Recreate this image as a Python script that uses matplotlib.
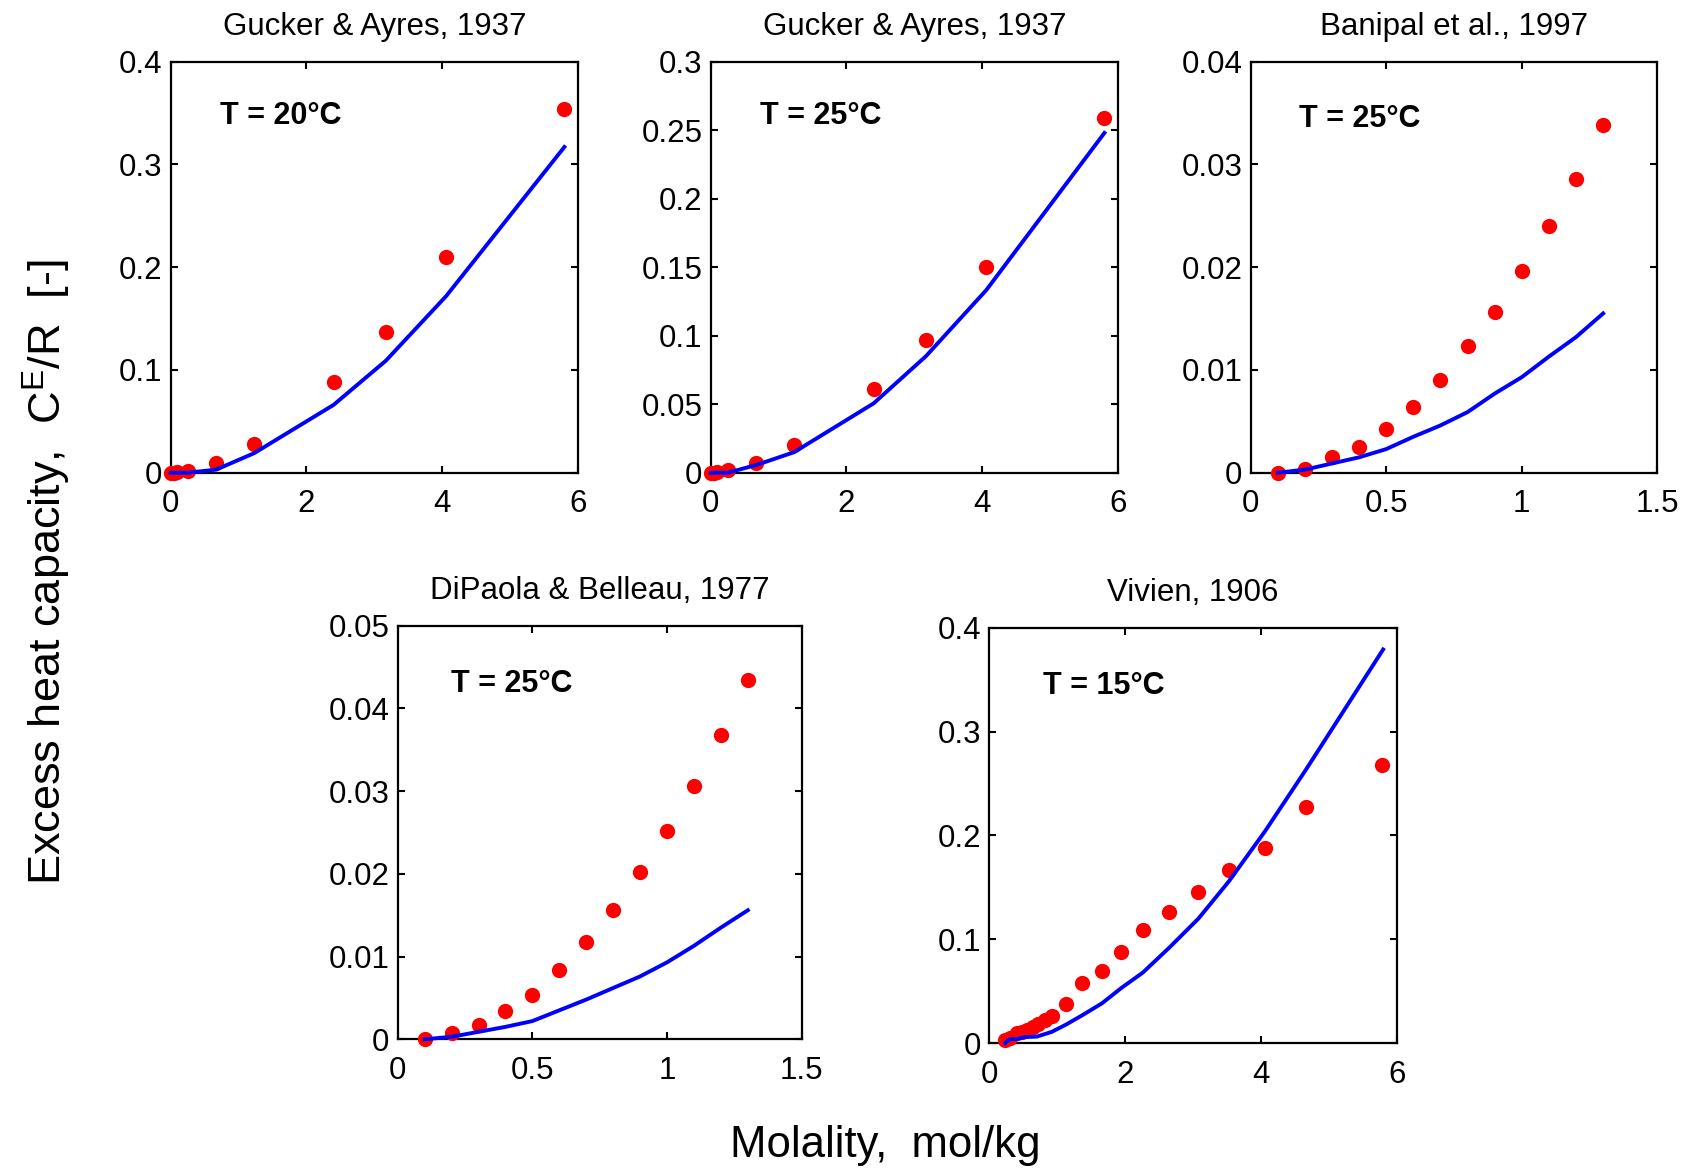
import matplotlib
matplotlib.use("Agg")
import matplotlib.pyplot as plt
import matplotlib.ticker as ticker

plt.rcParams["font.family"] = ["Liberation Sans", "DejaVu Sans"]
plt.rcParams["mathtext.default"] = "regular"

# Gucker & Ayres, 1937, T = 20 C
g20_x = [0.0, 0.05, 0.1, 0.25, 0.67, 1.23, 2.4, 3.17, 4.06, 5.8]
g20_y = [0.0, 0.0, 0.0005, 0.002, 0.009, 0.028, 0.088, 0.137, 0.210, 0.354]
g20_fit_x = [0.0, 0.25, 0.67, 1.23, 2.4, 3.17, 4.06, 5.8]
g20_fit_y = [0.0, 0.0, 0.003, 0.019, 0.066, 0.109, 0.172, 0.317]

# Gucker & Ayres, 1937, T = 25 C
g25_x = [0.0, 0.05, 0.1, 0.25, 0.67, 1.23, 2.4, 3.17, 4.06, 5.8]
g25_y = [0.0, 0.0, 0.0003, 0.002, 0.007, 0.020, 0.061, 0.097, 0.150, 0.259]
g25_fit_x = [0.0, 0.25, 0.67, 1.23, 2.4, 3.17, 4.06, 5.8]
g25_fit_y = [0.0, 0.0, 0.0056, 0.015, 0.0506, 0.085, 0.1333, 0.248]

# Banipal et al., 1997, T = 25 C
ban_x = [0.1, 0.2, 0.3, 0.4, 0.5, 0.6, 0.7, 0.8, 0.9, 1.0, 1.1, 1.2, 1.3]
ban_y = [0.0, 0.0004, 0.0015, 0.0025, 0.0043, 0.0064, 0.0090, 0.0123,
         0.0156, 0.0196, 0.0240, 0.0286, 0.0338]
ban_fit_y = [0.0, 0.0003, 0.0009, 0.0015, 0.0023, 0.0035, 0.0046, 0.0059,
             0.0077, 0.0093, 0.0113, 0.0132, 0.0155]

# DiPaola & Belleau, 1977, T = 25 C
dip_x = [0.1, 0.2, 0.3, 0.4, 0.5, 0.6, 0.7, 0.8, 0.9, 1.0, 1.1, 1.2, 1.3]
dip_y = [0.0, 0.0007, 0.0017, 0.0034, 0.0054, 0.0084, 0.0118, 0.0156,
         0.0202, 0.0252, 0.0306, 0.0368, 0.0434]
dip_fit_y = [0.0, 0.0003, 0.0009, 0.0015, 0.0022, 0.0035, 0.0048, 0.0062,
             0.0076, 0.0093, 0.0113, 0.0135, 0.0156]

# Vivien, 1906, T = 15 C
viv_x = [0.23, 0.3, 0.4, 0.48, 0.55, 0.65, 0.72, 0.82, 0.92, 1.13, 1.37,
         1.66, 1.94, 2.26, 2.65, 3.08, 3.53, 4.06, 4.66, 5.79]
viv_y = [0.003, 0.005, 0.0096, 0.011, 0.013, 0.016, 0.019, 0.022, 0.026,
         0.0375, 0.058, 0.070, 0.088, 0.109, 0.126, 0.146, 0.167, 0.188,
         0.227, 0.268]
viv_fit_x = [0.23, 0.3, 0.4, 0.53, 0.7, 0.92, 1.13, 1.37, 1.66, 1.94, 2.26,
             2.65, 3.08, 3.53, 4.06, 4.66, 5.8]
viv_fit_y = [0.0, 0.004, 0.004, 0.006, 0.0064, 0.011, 0.018, 0.027, 0.0385,
             0.053, 0.068, 0.092, 0.120, 0.156, 0.204, 0.263, 0.379]

panels = [
    # rect, title, label, points, fit, xlim, xticks, ylim, yticks, label pos
    ([0.1012, 0.5970, 0.2416, 0.3504], "Gucker & Ayres, 1937", "T = 20°C",
     (g20_x, g20_y), (g20_fit_x, g20_fit_y), (0, 6), [0, 2, 4, 6],
     (0, 0.4), [0, 0.1, 0.2, 0.3, 0.4], (0.12, 0.868)),
    ([0.4215, 0.5970, 0.2416, 0.3504], "Gucker & Ayres, 1937", "T = 25°C",
     (g25_x, g25_y), (g25_fit_x, g25_fit_y), (0, 6), [0, 2, 4, 6],
     (0, 0.3), [0, 0.05, 0.1, 0.15, 0.2, 0.25, 0.3], (0.12, 0.868)),
    ([0.7418, 0.5970, 0.2412, 0.3504], "Banipal et al., 1997", "T = 25°C",
     (ban_x, ban_y), (ban_x, ban_fit_y), (0, 1.5), [0, 0.5, 1, 1.5],
     (0, 0.04), [0, 0.01, 0.02, 0.03, 0.04], (0.12, 0.86)),
    ([0.2359, 0.1140, 0.2396, 0.3526], "DiPaola & Belleau, 1977", "T = 25°C",
     (dip_x, dip_y), (dip_x, dip_fit_y), (0, 1.5), [0, 0.5, 1, 1.5],
     (0, 0.05), [0, 0.01, 0.02, 0.03, 0.04, 0.05], (0.132, 0.86)),
    ([0.5868, 0.1106, 0.2416, 0.3543], "Vivien, 1906", "T = 15°C",
     (viv_x, viv_y), (viv_fit_x, viv_fit_y), (0, 6), [0, 2, 4, 6],
     (0, 0.4), [0, 0.1, 0.2, 0.3, 0.4], (0.131, 0.86)),
]

fig = plt.figure(figsize=(16.86, 11.73), dpi=100)

for rect, title, label, pts, fit, xlim, xticks, ylim, yticks, lpos in panels:
    ax = fig.add_axes(rect)
    ax.plot(pts[0], pts[1], "o", color="#ff0000", markersize=11,
            markeredgewidth=0, zorder=3, clip_on=False)
    ax.plot(fit[0], fit[1], "-", color="#0000ff", linewidth=2.8, zorder=4,
            clip_on=False)
    ax.set_xlim(*xlim)
    ax.set_ylim(*ylim)
    ax.set_xticks(xticks)
    ax.set_yticks(yticks)
    ax.xaxis.set_major_formatter(ticker.FormatStrFormatter("%g"))
    ax.yaxis.set_major_formatter(ticker.FormatStrFormatter("%g"))
    ax.tick_params(direction="in", top=True, right=True, length=5, width=1.5,
                   labelsize=22.5)
    ax.tick_params(axis="x", pad=12)
    ax.tick_params(axis="y", pad=6)
    for sp in ax.spines.values():
        sp.set_linewidth(1.6)
    ax.set_title(title, fontsize=22.5, pad=19)
    ax.text(lpos[0], lpos[1], label, transform=ax.transAxes, fontsize=22,
            fontweight="bold", ha="left", va="center")

fig.text(0.028, 0.512, r"Excess heat capacity,  C$^{E}$/R  [-]",
         rotation=90, ha="center", va="center", fontsize=32.5)
fig.text(0.525, 0.014, "Molality,  mol/kg", ha="center", va="baseline",
         fontsize=31.5)

fig.savefig("out.png", dpi=100)
